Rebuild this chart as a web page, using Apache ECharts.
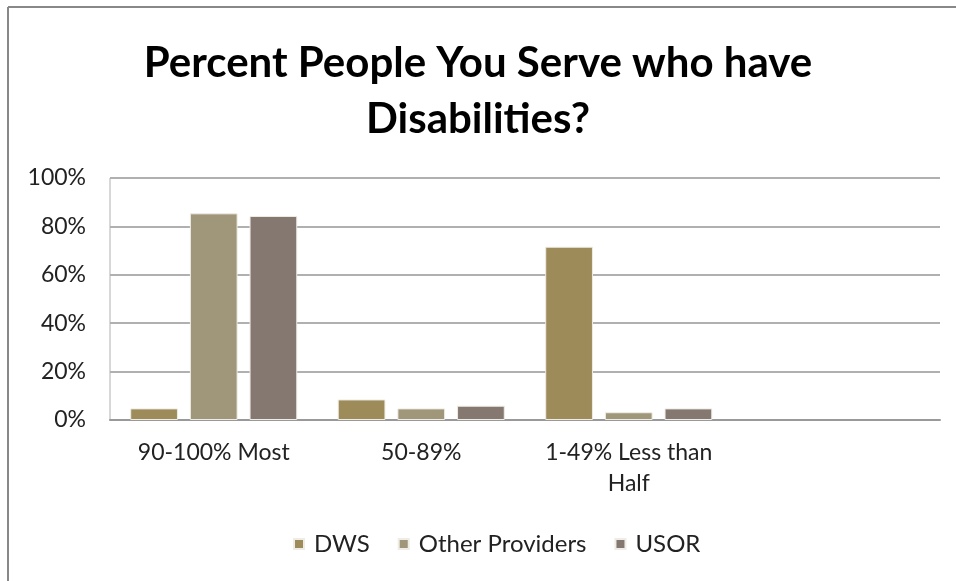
<!DOCTYPE html>
<html>
<head>
<meta charset="utf-8">
<script src="https://cdn.jsdelivr.net/npm/echarts@6/dist/echarts.min.js"></script>
<style>
  html, body { margin: 0; padding: 0; background: #fff; }
  #chart { width: 956px; height: 581px; }
</style>
</head>
<body>
<div id="chart"></div>
<script>
// categories (last slot is empty in the original)
const categories = ['90-100% Most', '50-89%', '1-49% Less than\nHalf', ''];
const seriesNames = ['DWS', 'Other Providers', 'USOR'];
const dws = [4.8, 8.5, 71.6];
const otherProviders = [85.4, 4.8, 3.2];
const usor = [84.3, 5.9, 4.8];
const yTicks = [0, 20, 40, 60, 80, 100];

const colors = ['#9d8b5a', '#a09679', '#857870'];
const font = 'Lato, "Open Sans", sans-serif';

const chart = echarts.init(document.getElementById('chart'));

function bar(name, data, i) {
  return {
    name,
    type: 'bar',
    data,
    barWidth: '23%',
    barGap: '25%',
    itemStyle: { color: colors[i], borderColor: '#eeece4', borderWidth: 1 }
  };
}

chart.setOption({
  animation: false,
  title: {
    text: 'Percent People You Serve who have\nDisabilities?',
    left: 'center',
    top: 30,
    textStyle: { fontFamily: font, fontWeight: 'bold', fontSize: 42, color: '#000', lineHeight: 56 }
  },
  legend: {
    top: 527,
    left: 288,
    itemWidth: 10,
    itemHeight: 10,
    itemGap: 28,
    icon: 'rect',
    textStyle: { fontFamily: font, fontSize: 24, color: '#222', padding: [0, 0, 0, 5] },
    data: seriesNames
  },
  grid: { left: 110, right: 16, top: 178, bottom: 161 },
  xAxis: {
    type: 'category',
    data: categories,
    axisLine: { lineStyle: { color: '#999', width: 2 } },
    axisTick: { show: false },
    axisLabel: { fontFamily: font, fontSize: 23, color: '#222', margin: 17, lineHeight: 31, interval: 0 }
  },
  yAxis: {
    type: 'value',
    min: yTicks[0],
    max: yTicks[yTicks.length - 1],
    interval: 20,
    axisLine: { show: false },
    axisTick: { show: false },
    splitLine: { lineStyle: { color: '#b0b0b0', width: 2 } },
    axisLabel: { fontFamily: font, fontSize: 23, color: '#222', margin: 24, formatter: v => v + '%' }
  },
  graphic: [
    { type: 'line', shape: { x1: 8, y1: 7, x2: 956, y2: 7 }, style: { stroke: '#888', lineWidth: 2 } },
    { type: 'line', shape: { x1: 8, y1: 7, x2: 8, y2: 581 }, style: { stroke: '#888', lineWidth: 2 } },
    { type: 'line', shape: { x1: 110, y1: 178, x2: 110, y2: 420 }, style: { stroke: '#b0b0b0', lineWidth: 1 } }
  ],
  series: [
    bar(seriesNames[0], dws, 0),
    bar(seriesNames[1], otherProviders, 1),
    bar(seriesNames[2], usor, 2)
  ]
});
</script>
</body>
</html>
